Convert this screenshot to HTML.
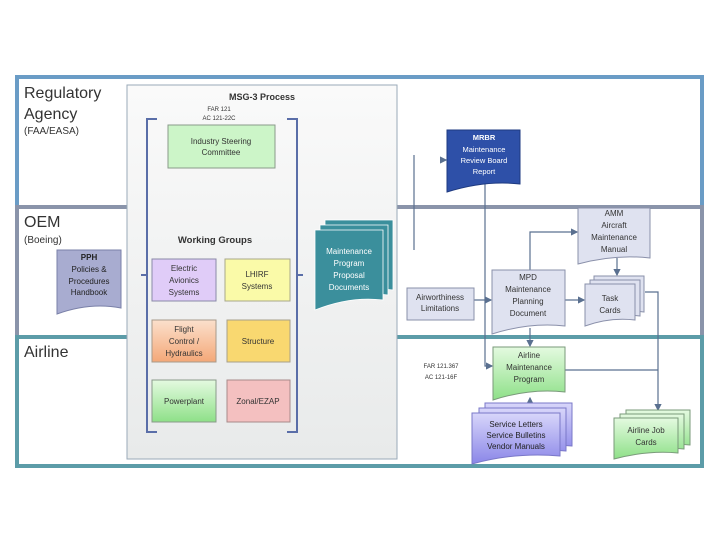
<!DOCTYPE html>
<html><head><meta charset="utf-8"><style>
body{margin:0;background:#fff}
svg text{font-family:"Liberation Sans",sans-serif}
</style></head><body>
<svg width="720" height="540" viewBox="0 0 720 540" xmlns="http://www.w3.org/2000/svg">
<defs>
<linearGradient id="pg" x1="0" y1="0" x2="0" y2="1"><stop offset="0" stop-color="#fafafa"/><stop offset="1" stop-color="#e8eaea"/></linearGradient>
<linearGradient id="gr" x1="0" y1="0" x2="0" y2="1"><stop offset="0" stop-color="#e4fae0"/><stop offset="1" stop-color="#8ee088"/></linearGradient>
<linearGradient id="or" x1="0" y1="0" x2="0" y2="1"><stop offset="0" stop-color="#fbe0cc"/><stop offset="1" stop-color="#f4a878"/></linearGradient>
<linearGradient id="pu" x1="0" y1="0" x2="0" y2="1"><stop offset="0" stop-color="#d8d6fa"/><stop offset="1" stop-color="#8a86e8"/></linearGradient>
<marker id="a" markerWidth="6" markerHeight="6" refX="5" refY="3" orient="auto"><path d="M0,0L6,3L0,6z" fill="#5a7090"/></marker>
</defs>
<rect x="17" y="77" width="685" height="130" fill="#fff" stroke="#6a9cc6" stroke-width="4"/>
<rect x="17" y="207" width="685" height="130" fill="#fff" stroke="#8a94aa" stroke-width="4"/>
<rect x="17" y="337" width="685" height="129" fill="#fff" stroke="#5c9ca8" stroke-width="4"/>
<text x="24" y="98" font-size="16" fill="#333">Regulatory</text>
<text x="24" y="119" font-size="16" fill="#333">Agency</text>
<text x="24" y="134" font-size="10" fill="#333">(FAA/EASA)</text>
<text x="24" y="227" font-size="16" fill="#333">OEM</text>
<text x="24" y="243" font-size="10" fill="#333">(Boeing)</text>
<text x="24" y="357" font-size="16" fill="#333">Airline</text>
<rect x="127" y="85" width="270" height="374" fill="url(#pg)" stroke="#9aaab8"/>
<text x="262" y="100" font-size="9" font-weight="bold" text-anchor="middle" fill="#333">MSG-3 Process</text>
<text x="219" y="111" font-size="6" text-anchor="middle" fill="#333">FAR 121</text>
<text x="219" y="120" font-size="6" text-anchor="middle" fill="#333">AC 121-22C</text>
<path d="M157,119H147V275H141M147,275V432H157" fill="none" stroke="#5a6ea8" stroke-width="2"/>
<path d="M287,119H297V275H303M297,275V432H287" fill="none" stroke="#5a6ea8" stroke-width="2"/>
<g font-size="8" text-anchor="middle" fill="#333">
<rect x="168" y="125" width="107" height="43" fill="#ccf5c8" stroke="#8a9a8a"/>
<text x="221" y="144">Industry Steering</text><text x="221" y="155">Committee</text>
<text x="215" y="243" font-size="9.5" font-weight="bold">Working Groups</text>
<rect x="152" y="259" width="64" height="42" fill="#e0ccf8" stroke="#8a8aa8"/>
<text x="184" y="271">Electric</text><text x="184" y="283">Avionics</text><text x="184" y="295">Systems</text>
<rect x="225" y="259" width="65" height="42" fill="#fafaa8" stroke="#a8a88a"/>
<text x="257" y="277">LHIRF</text><text x="257" y="289">Systems</text>
<rect x="152" y="320" width="64" height="42" fill="url(#or)" stroke="#a89a8a"/>
<text x="184" y="332">Flight</text><text x="184" y="344">Control /</text><text x="184" y="356">Hydraulics</text>
<rect x="227" y="320" width="63" height="42" fill="#f9d870" stroke="#a8a08a"/>
<text x="258" y="344">Structure</text>
<rect x="152" y="380" width="64" height="42" fill="url(#gr)" stroke="#8a9a8a"/>
<text x="184" y="404">Powerplant</text>
<rect x="227" y="380" width="63" height="42" fill="#f4c0c0" stroke="#a88a8a"/>
<text x="258" y="404">Zonal/EZAP</text>
</g>
<g fill="#3b8f9c" stroke="#fff" stroke-width="0.8">
<path d="M325,220H393V290Q360,286 325,300Z"/>
<path d="M320,225H388V295Q355,291 320,305Z"/>
<path d="M315,230H383V300Q350,296 315,310Z"/>
</g>
<g font-size="8" fill="#fff" text-anchor="middle"><text x="349" y="254">Maintenance</text><text x="349" y="266">Program</text><text x="349" y="278">Proposal</text><text x="349" y="290">Documents</text></g>
<path d="M57,250H121V308Q90,302 57,314Z" fill="#a8acd0" stroke="#7a80a8"/>
<g font-size="8" fill="#222" text-anchor="middle"><text x="89" y="260" font-weight="bold">PPH</text><text x="89" y="272">Policies &amp;</text><text x="89" y="284">Procedures</text><text x="89" y="295">Handbook</text></g>
<g fill="none" stroke="#5a7090" stroke-width="1.2">
<line x1="414" y1="155" x2="414" y2="250"/>
<path d="M440,160H446" marker-end="url(#a)"/>
<path d="M485,180V366H492" marker-end="url(#a)"/>
<path d="M530,270V232H577" marker-end="url(#a)"/>
<path d="M617,258V275" marker-end="url(#a)"/>
<path d="M474,300H491" marker-end="url(#a)"/>
<path d="M565,300H584" marker-end="url(#a)"/>
<path d="M530,328V346" marker-end="url(#a)"/>
<path d="M645,292H658V410" marker-end="url(#a)"/>
<path d="M565,370H658"/>
<path d="M530,403V398" marker-end="url(#a)"/>
</g>
<path d="M447,130H520V184Q485,180 447,192Z" fill="#2e50a8" stroke="#1e3a80"/>
<g font-size="7.5" fill="#fff" text-anchor="middle"><text x="484" y="140" font-weight="bold">MRBR</text><text x="484" y="152">Maintenance</text><text x="484" y="163">Review Board</text><text x="484" y="174">Report</text></g>
<path d="M578,208H650V258Q615,254 578,264Z" fill="#dfe2f0" stroke="#8a90aa"/>
<g font-size="8" fill="#333" text-anchor="middle"><text x="614" y="216">AMM</text><text x="614" y="228">Aircraft</text><text x="614" y="240">Maintenance</text><text x="614" y="252">Manual</text></g>
<rect x="407" y="288" width="67" height="32" fill="#dfe2f0" stroke="#8a90aa"/>
<g font-size="8" fill="#333" text-anchor="middle"><text x="440" y="300">Airworthiness</text><text x="440" y="311">Limitations</text></g>
<path d="M492,270H565V326Q530,322 492,334Z" fill="#dfe2f0" stroke="#8a90aa"/>
<g font-size="8" fill="#333" text-anchor="middle"><text x="528" y="280">MPD</text><text x="528" y="292">Maintenance</text><text x="528" y="304">Planning</text><text x="528" y="316">Document</text></g>
<g fill="#dfe2f0" stroke="#8a90aa">
<path d="M594,276H644V312Q620,309 594,318Z"/>
<path d="M590,280H640V316Q615,313 590,322Z"/>
<path d="M585,284H635V320Q610,317 585,326Z"/>
</g>
<g font-size="8" fill="#333" text-anchor="middle"><text x="610" y="301">Task</text><text x="610" y="313">Cards</text></g>
<path d="M493,347H565V392Q530,388 493,400Z" fill="url(#gr)" stroke="#7a9a7a"/>
<g font-size="8" fill="#333" text-anchor="middle"><text x="529" y="358">Airline</text><text x="529" y="370">Maintenance</text><text x="529" y="382">Program</text></g>
<text x="441" y="368" font-size="6" fill="#333" text-anchor="middle">FAR 121.367</text>
<text x="441" y="379" font-size="6" fill="#333" text-anchor="middle">AC 121-16F</text>
<g fill="url(#pu)" stroke="#7a78c8">
<path d="M485,403H572V446Q530,442 485,454Z"/>
<path d="M479,408H566V451Q525,447 479,459Z"/>
<path d="M472,413H560V456Q515,452 472,464Z"/>
</g>
<g font-size="8" fill="#222" text-anchor="middle"><text x="516" y="427">Service Letters</text><text x="516" y="438">Service Bulletins</text><text x="516" y="449">Vendor Manuals</text></g>
<g fill="url(#gr)" stroke="#7a9a7a">
<path d="M626,410H690V445Q660,442 626,451Z"/>
<path d="M620,414H684V449Q654,446 620,455Z"/>
<path d="M614,418H678V453Q648,450 614,459Z"/>
</g>
<g font-size="8" fill="#333" text-anchor="middle"><text x="646" y="433">Airline Job</text><text x="646" y="445">Cards</text></g>
</svg>
</body></html>
